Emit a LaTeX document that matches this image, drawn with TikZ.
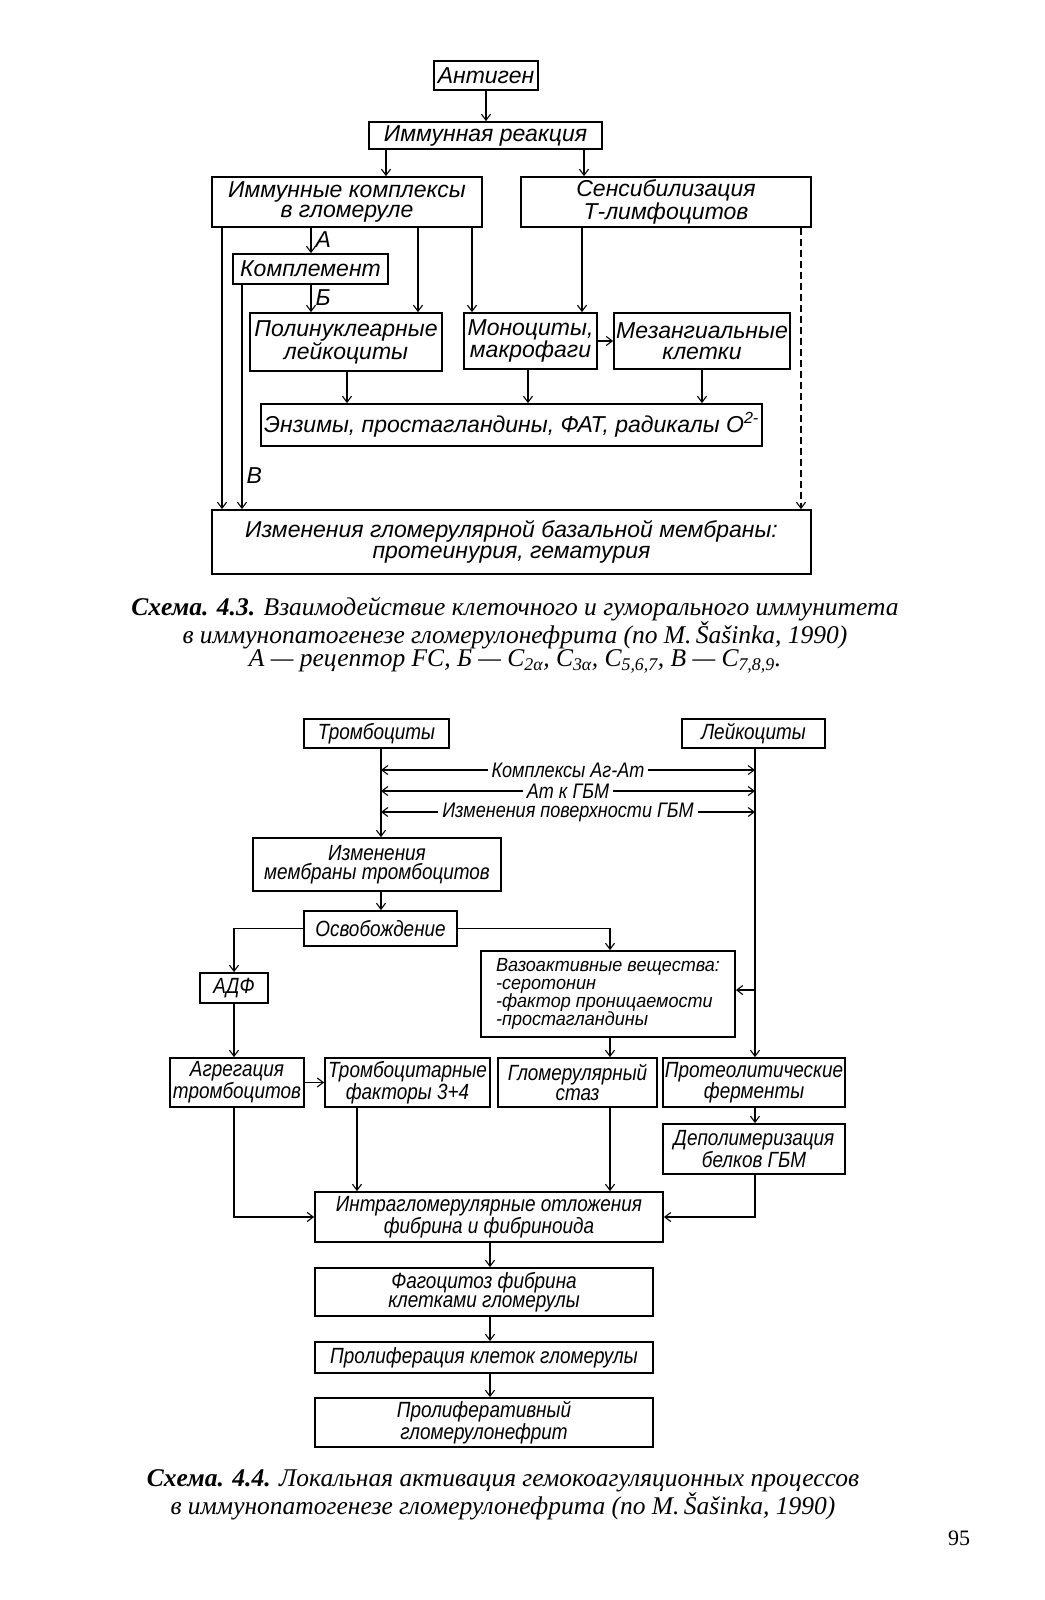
\documentclass[tikz,border=0pt]{standalone}
\usepackage{fontspec}
\setmainfont{Liberation Serif}
\newfontfamily\dfont{Liberation Sans}
\newfontfamily\dfontc[FakeStretch=0.86]{Liberation Sans}
\newfontfamily\dfontv[FakeStretch=0.95]{Liberation Sans}
\newfontfamily\capfont{Liberation Serif}
\usetikzlibrary{arrows.meta}
\begin{document}
\begin{tikzpicture}[x=1pt,y=-1pt,
  line width=1.3pt,
  arr/.style={-{Straight Barb[length=6pt,width=9pt,line width=1.1pt]}},
  darr/.style={{Straight Barb[length=6pt,width=9pt,line width=1.1pt]}-{Straight Barb[length=6pt,width=9pt,line width=1.1pt]}},
  bA/.style={draw, line width=1.8pt, inner sep=0pt, align=center, font=\dfont\itshape\fontsize{23}{20.5}\selectfont},
  bB/.style={draw, line width=1.8pt, inner sep=0pt, align=center, font=\dfontc\itshape\fontsize{22}{19.5}\selectfont},
  lblA/.style={font=\dfont\itshape\fontsize{23}{20.5}\selectfont, inner xsep=4pt, inner ysep=1pt},
  lblB/.style={font=\dfontc\itshape\fontsize{21}{19}\selectfont, fill=white, inner xsep=4pt, inner ysep=0pt},
  capt/.style={align=center, font=\capfont\itshape\fontsize{25.5}{23}\selectfont}
]
\useasboundingbox (0,0) rectangle (1044,1600);
\fill[white] (0,0) rectangle (1044,1600);

% ---------------- Diagram 4.3 ----------------
\node[bA, minimum width=104, minimum height=29] (ant) at (486,75.5) {Антиген};
\node[bA, minimum width=233, minimum height=27] (imm) at (485.5,135.5) {Иммунная реакция};
\node[bA, minimum width=270, minimum height=50] (ic) at (347,202) {Иммунные комплексы\\в гломеруле};
\node[bA, minimum width=290, minimum height=50] (sens) at (666,202) {Сенсибилизация\\Т-лимфоцитов};
\node[bA, minimum width=155, minimum height=30] (comp) at (310.5,269) {Комплемент};
\node[bA, minimum width=192, minimum height=58] (poly) at (346,342) {Полинуклеарные\\лейкоциты};
\node[bA, minimum width=133, minimum height=56] (mono) at (530.5,341) {Моноциты,\\макрофаги};
\node[bA, minimum width=176, minimum height=56] (mes) at (702,341) {Мезангиальные\\клетки};
\node[bA, minimum width=501, minimum height=42] (enz) at (511.5,425) {Энзимы, простагландины, ФАТ, радикалы O\textsuperscript{2-}};
\node[bA, minimum width=599, minimum height=64] (gbm) at (511.5,542) {Изменения гломерулярной базальной мембраны:\\протеинурия, гематурия};

\coordinate (x1) at (386,0);
\coordinate (x2) at (584,0);
\coordinate (xa) at (311,0);
\coordinate (xl) at (222,0);
\coordinate (xc) at (242,0);
\coordinate (xp) at (418,0);
\coordinate (xm) at (472,0);
\coordinate (xs) at (582,0);
\coordinate (xd) at (801,0);
\coordinate (e1) at (347,0);
\coordinate (e2) at (528,0);
\coordinate (e3) at (702,0);

\draw[arr] (ant.south) -- (ant.south |- imm.north);
\draw[arr] (imm.south -| x1) -- (ic.north -| x1);
\draw[arr] (imm.south -| x2) -- (sens.north -| x2);
\draw[arr] (ic.south -| xa) -- node[lblA, right, pos=0.45] {А} (comp.north -| xa);
\draw[arr] (comp.south -| xa) -- node[lblA, right, pos=0.45] {Б} (poly.north -| xa);
\draw[arr] (ic.south -| xl) -- (gbm.north -| xl);
\draw[arr] (comp.south -| xc) -- node[lblA, right, pos=0.85] {В} (gbm.north -| xc);
\draw[arr] (ic.south -| xp) -- (poly.north -| xp);
\draw[arr] (ic.south -| xm) -- (mono.north -| xm);
\draw[arr] (sens.south -| xs) -- (mono.north -| xs);
\draw[arr, dashed, dash pattern=on 7pt off 4pt] (sens.south -| xd) -- (gbm.north -| xd);
\draw[arr] (mono.east) -- (mes.west);
\draw[arr] (poly.south -| e1) -- (enz.north -| e1);
\draw[arr] (mono.south -| e2) -- (enz.north -| e2);
\draw[arr] (mes.south -| e3) -- (enz.north -| e3);

\node[capt] (cap1) at (515,635) {\textbf{Схема. 4.3.} Взаимодействие клеточного и гуморального иммунитета\\в иммунопатогенезе гломерулонефрита (по M.\,Šašinka, 1990)\\А — рецептор FC, Б — C\textsubscript{2α}, C\textsubscript{3α}, C\textsubscript{5,6,7}, В — C\textsubscript{7,8,9}.};

% ---------------- Diagram 4.4 ----------------
\node[bB, minimum width=145, minimum height=29] (tromb) at (376.5,733.5) {Тромбоциты};
\node[bB, minimum width=143, minimum height=29] (leuk) at (753.5,733.5) {Лейкоциты};
\node[bB, minimum width=248, minimum height=53] (mem) at (377,864.5) {Изменения\\мембраны тромбоцитов};
\node[bB, minimum width=153, minimum height=35] (osv) at (380.5,928.5) {Освобождение};
\node[bB, minimum width=68, minimum height=30] (adf) at (234,988) {АДФ};
\node[bB, minimum width=254, minimum height=86, align=left, font=\dfontv\itshape\fontsize{19}{18}\selectfont] (vaso) at (608,994) {Вазоактивные вещества:\\-серотонин\\-фактор проницаемости\\-простагландины};
\node[bB, minimum width=134, minimum height=49] (agr) at (237,1082.5) {Агрегация\\тромбоцитов};
\node[bB, minimum width=165, minimum height=49] (trf) at (407.5,1082.5) {Тромбоцитарные\\факторы 3+4};
\node[bB, minimum width=159, minimum height=49] (stz) at (577.5,1082.5) {Гломерулярный\\стаз};
\node[bB, minimum width=182, minimum height=49] (prot) at (754,1082.5) {Протеолитические\\ферменты};
\node[bB, minimum width=182, minimum height=50] (depol) at (754,1149) {Деполимеризация\\белков ГБМ};
\node[bB, minimum width=348, minimum height=50] (intra) at (489,1217) {Интрагломерулярные отложения\\фибрина и фибриноида};
\node[bB, minimum width=338, minimum height=48] (fag) at (484,1292) {Фагоцитоз фибрина\\клетками гломерулы};
\node[bB, minimum width=338, minimum height=31] (prol) at (484,1357.5) {Пролиферация клеток гломерулы};
\node[bB, minimum width=338, minimum height=49] (prolgn) at (484,1422.5) {Пролиферативный\\гломерулонефрит};

\coordinate (xL) at (381,0);
\coordinate (xR) at (755,0);
\coordinate (xV) at (610,0);
\coordinate (xq) at (234,0);
\coordinate (xt) at (357,0);
\coordinate (xf) at (490,0);
\coordinate (yv) at (0,990);
\coordinate (h1L) at (381,770);
\coordinate (h1R) at (755,770);
\coordinate (h2L) at (381,791);
\coordinate (h2R) at (755,791);
\coordinate (h3L) at (381,812);
\coordinate (h3R) at (755,812);

\draw[arr] (tromb.south -| xL) -- (mem.north -| xL);
\draw[arr] (leuk.south -| xR) -- (prot.north -| xR);
\draw[darr] (h1L) -- node[lblB] {Комплексы Аг-Ат} (h1R);
\draw[darr] (h2L) -- node[lblB] {Ат к ГБМ} (h2R);
\draw[darr] (h3L) -- node[lblB] {Изменения поверхности ГБМ} (h3R);
\draw[arr] (mem.south -| xL) -- (osv.north -| xL);
\draw[arr] (osv.west) -| (adf.north);
\draw[arr] (osv.east) -| (vaso.north -| xV);
\draw[arr] (yv -| xR) -- (vaso.east |- yv);
\draw[arr] (adf.south) -- (adf.south |- agr.north);
\draw[arr] (vaso.south -| xV) -- (stz.north -| xV);
\draw[arr] (agr.east) -- (trf.west);
\draw[arr] (prot.south -| xR) -- (depol.north -| xR);
\draw[arr] (agr.south -| xq) |- (intra.west);
\draw[arr] (trf.south -| xt) -- (intra.north -| xt);
\draw[arr] (stz.south -| xV) -- (intra.north -| xV);
\draw[arr] (depol.south -| xR) |- (intra.east);
\draw[arr] (intra.south -| xf) -- (fag.north -| xf);
\draw[arr] (fag.south -| xf) -- (prol.north -| xf);
\draw[arr] (prol.south -| xf) -- (prolgn.north -| xf);

\node[capt] (cap2) at (503,1495) {\textbf{Схема. 4.4.} Локальная активация гемокоагуляционных процессов\\в иммунопатогенезе гломерулонефрита (по M.\,Šašinka, 1990)};
\node[font=\fontsize{22}{22}\selectfont] (page) at (959,1538) {95};
\end{tikzpicture}
\end{document}
